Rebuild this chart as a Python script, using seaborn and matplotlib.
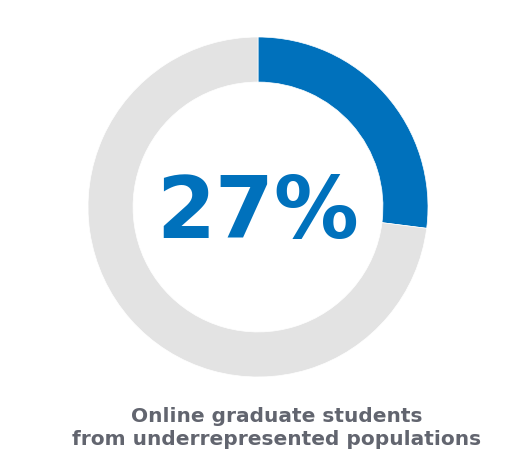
import matplotlib
matplotlib.use("Agg")
import matplotlib.pyplot as plt
import seaborn as sns

# Data
labels = ["Underrepresented", "Other"]
shares = [27, 73]
colors = ["#0071bc", "#e3e3e3"]
big_label = "27%"
caption = "Online graduate students\nfrom underrepresented populations"

sns.set_theme(style="white")
plt.rcParams["font.family"] = ["DejaVu Sans"]

fig = plt.figure(figsize=(5.15, 4.70), dpi=100)
ax = fig.add_axes([0, 0, 1, 1])

# donut, radius 1 == 170 px
ax.pie(shares, colors=colors, startangle=90, counterclock=False,
       wedgeprops=dict(width=0.265, edgecolor="white", linewidth=0.5))

ax.set_xlim(-258 / 170, (515 - 258) / 170)
ax.set_ylim(-263 / 170, 207 / 170)
ax.set_aspect("auto")
ax.axis("off")

ax.text(0, -0.185, big_label, ha="center", va="baseline",
        fontsize=61, fontweight="heavy", color="#0071bc")
ax.text(0.112, -1.3, caption, ha="center", va="center", linespacing=1.22,
        fontsize=14.5, fontweight="bold", color="#62656f")

fig.savefig("out.png", dpi=100)
